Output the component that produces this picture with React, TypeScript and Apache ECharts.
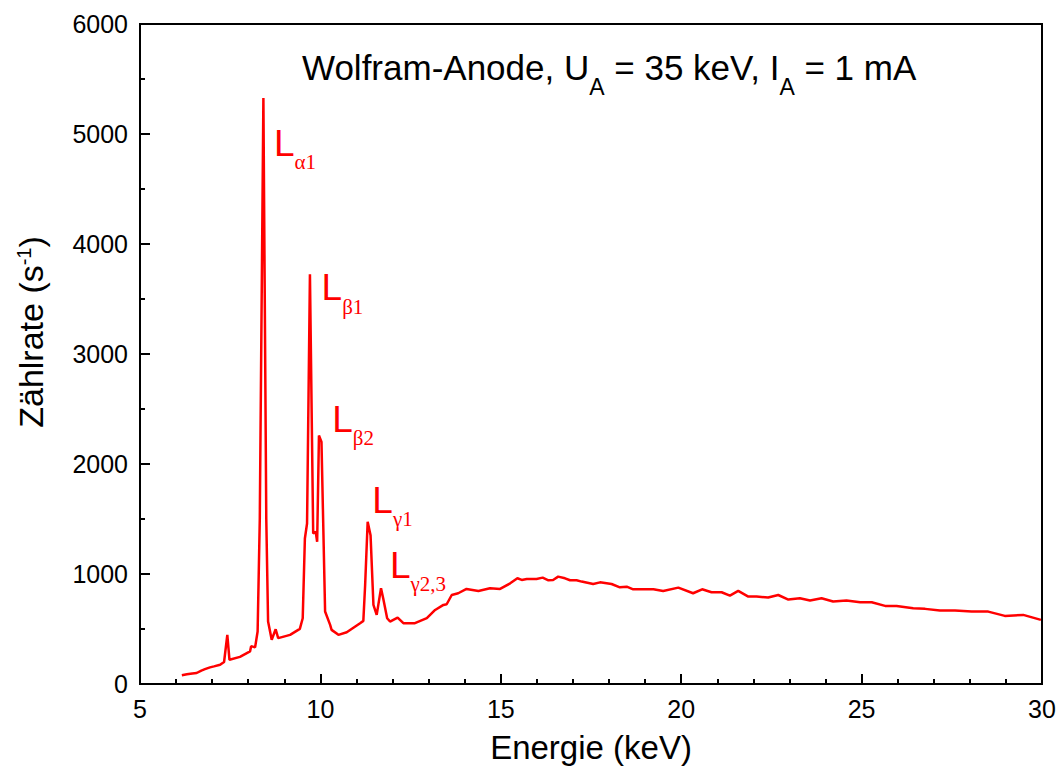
import React, { useEffect, useRef } from "react";
import * as echarts from "echarts";

// Photon energy (keV) and counting rate (1/s)
const energy: number[] = [
  6.16, 6.3, 6.45, 6.57, 6.7, 6.8, 6.94, 7.05, 7.22, 7.33, 7.42, 7.48, 7.77, 8.05, 8.08, 8.19, 8.26, 8.32,
  8.42, 8.5, 8.55, 8.65, 8.76, 8.83, 9.16, 9.43, 9.51, 9.57, 9.63, 9.71, 9.8, 9.87, 9.91, 9.96, 10.03,
  10.13, 10.27, 10.31, 10.5, 10.73, 11.1, 11.19, 11.24, 11.31, 11.39, 11.47, 11.56, 11.68, 11.74, 11.85,
  11.93, 12.14, 12.3, 12.62, 12.95, 13.18, 13.41, 13.5, 13.64, 13.82, 14.05, 14.38, 14.7, 14.98, 15.26,
  15.46, 15.58, 15.72, 15.99, 16.16, 16.32, 16.45, 16.59, 16.78, 16.92, 17.1, 17.24, 17.56, 17.75, 18.07,
  18.3, 18.49, 18.67, 19.23, 19.5, 19.92, 20.33, 20.58, 20.84, 21.12, 21.35, 21.58, 21.86, 22.09, 22.41,
  22.69, 22.97, 23.29, 23.57, 23.89, 24.21, 24.58, 24.96, 25.28, 25.65, 25.97, 26.43, 26.76, 27.17, 27.59,
  28.05, 28.51, 28.97, 29.48, 29.97,
];
const counts: number[] = [
  79, 88, 96, 100, 122, 135, 151, 160, 175, 200, 447, 220, 247, 296, 344, 333, 477, 1500,
  5327, 1500, 568, 402, 498, 417, 447, 501, 598, 1323, 1459, 3725, 1368, 1384, 1293, 2260, 2200,
  659, 537, 492, 447, 471, 553, 574, 900, 1475, 1353, 719, 628, 870, 779, 598,
  568, 604, 553, 553, 598, 673, 719, 725, 809, 825, 864, 846, 870, 864, 915,
  961, 946, 955, 955, 967, 943, 946, 976, 961, 943, 943, 931, 909, 924, 909,
  879, 885, 861, 861, 846, 876, 825, 861, 834, 834, 804, 846, 795, 795, 786,
  809, 768, 780, 759, 780, 750, 759, 743, 743, 710, 710, 689, 683, 668, 668,
  658, 658, 619, 628, 583,
];

// Line labels: subscript and anchor (energy, rate) of the label's top-left corner
const lineNames: string[] = ["α1", "β1", "β2", "γ1", "γ2,3"];
const lineLabelE: number[] = [8.714, 10.033, 10.33, 11.439, 11.929];
const lineLabelC: number[] = [5085, 3771, 2577, 1837, 1248];

const xMin = 5;
const xMax = 30;
const xStep = 5;
const yMin = 0;
const yMax = 6000;
const yStep = 1000;

const titleText = "{n|Wolfram-Anode, U}{s|A}{n| = 35 keV, I}{s|A}{n| = 1 mA}";
const xName = "Energie (keV)";
const yNameMain = "Zählrate (s";
const yNameSup = "-1";

const SANS = "'Liberation Sans', Arial, Helvetica, sans-serif";
const SERIF = "'Liberation Serif', 'Times New Roman', serif";
const RED = "#ff0000";

export default function App() {
  const ref = useRef<HTMLDivElement>(null);

  useEffect(() => {
    if (!ref.current) return;
    const chart = echarts.init(ref.current, undefined, { renderer: "svg" });
    const data = energy.map((e, i) => [e, counts[i]]);

    const axisCommon = {
      axisLine: { show: true, onZero: false, lineStyle: { color: "#000", width: 2 } },
      axisTick: { show: true, inside: true, length: 10, lineStyle: { color: "#000", width: 2 } },
      minorTick: { show: true, length: 5, lineStyle: { color: "#000", width: 2 } },
      splitLine: { show: false },
      minorSplitLine: { show: false },
      axisLabel: {
        color: "#000",
        fontSize: 25,
        fontFamily: SANS,
        margin: 12,
        formatter: (v: number) => String(v),
      },
    };

    chart.setOption({
      animation: false,
      backgroundColor: "#fff",
      grid: {
        left: 140,
        right: 20,
        top: 24,
        bottom: 83,
        show: true,
        borderColor: "#000",
        borderWidth: 2,
        backgroundColor: "transparent",
      },
      xAxis: {
        type: "value",
        min: xMin,
        max: xMax,
        interval: xStep,
        ...axisCommon,
        minorTick: { ...axisCommon.minorTick, splitNumber: 5 },
        name: xName,
        nameLocation: "middle",
        nameGap: 47,
        nameTextStyle: { color: "#000", fontSize: 33, fontFamily: SANS },
      },
      yAxis: {
        type: "value",
        min: yMin,
        max: yMax,
        interval: yStep,
        ...axisCommon,
        minorTick: { ...axisCommon.minorTick, splitNumber: 2 },
      },
      series: [
        {
          type: "line",
          data,
          showSymbol: false,
          symbol: "none",
          lineStyle: { color: RED, width: 2.5 },
          z: 3,
        },
      ],
    });

    const labels = lineNames.map((n, i) => {
      const p = chart.convertToPixel({ gridIndex: 0 }, [lineLabelE[i], lineLabelC[i]]) as number[];
      return {
        type: "text",
        x: p[0],
        y: p[1],
        z: 10,
        style: {
          text: "{l|L}{s|" + n + "}",
          align: "left",
          verticalAlign: "top",
          fill: RED,
          rich: {
            l: { fontSize: 37, fontFamily: SANS, lineHeight: 37, verticalAlign: "top", fill: RED },
            s: {
              fontSize: 21,
              fontFamily: SERIF,
              lineHeight: 48,
              padding: [27, 0, 0, 0],
              verticalAlign: "bottom",
              fill: RED,
            },
          },
        },
      };
    });

    chart.setOption({
      graphic: [
        {
          type: "text",
          x: 302,
          y: 50,
          z: 10,
          style: {
            text: titleText,
            align: "left",
            verticalAlign: "top",
            fill: "#000",
            rich: {
              n: { fontSize: 35, fontFamily: SANS, lineHeight: 35, verticalAlign: "top", fill: "#000" },
              s: {
                fontSize: 23,
                fontFamily: SANS,
                lineHeight: 48,
                padding: [25, 0, 0, 0],
                verticalAlign: "bottom",
                fill: "#000",
              },
            },
          },
        },
        {
          type: "text",
          x: 31,
          y: 332,
          rotation: Math.PI / 2,
          z: 10,
          style: {
            text: "{m|" + yNameMain + "}{p|" + yNameSup + "}{m|)}",
            align: "center",
            verticalAlign: "middle",
            fill: "#000",
            rich: {
              m: { fontSize: 34, fontFamily: SANS, lineHeight: 34, verticalAlign: "middle", fill: "#000" },
              p: { fontSize: 20, fontFamily: SANS, lineHeight: 20, verticalAlign: "top", fill: "#000" },
            },
          },
        },
        ...labels,
      ],
    });

    return () => chart.dispose();
  }, []);

  return (
    <div
      ref={ref}
      style={{ position: "fixed", left: 0, top: 0, width: 1062, height: 769, background: "#fff" }}
    />
  );
}
